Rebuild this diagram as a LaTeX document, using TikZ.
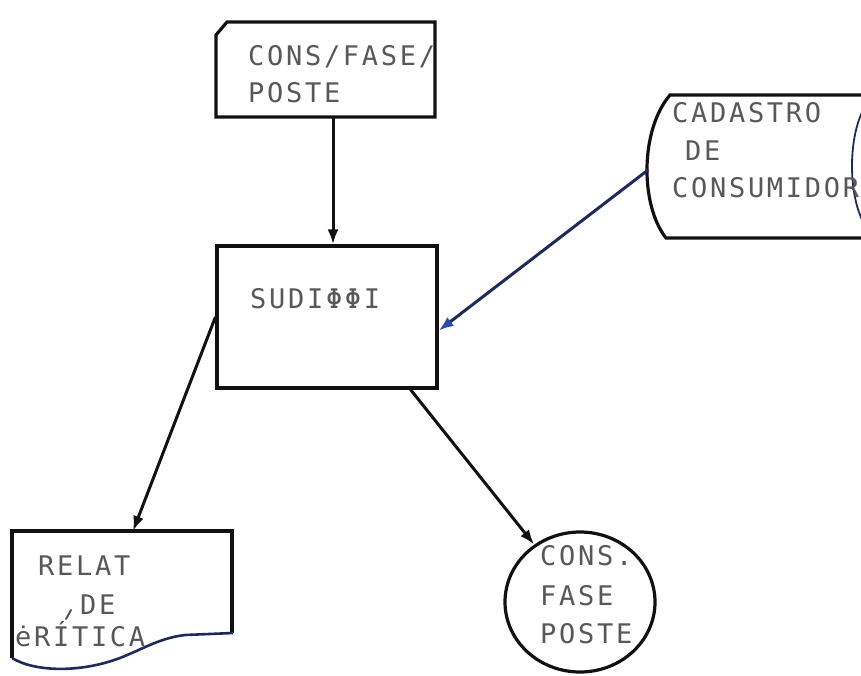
\documentclass[tikz,border=0pt]{standalone}
\usepackage{fontspec}
\usetikzlibrary{arrows.meta,shapes.geometric}
\newfontfamily\typewriter[LetterSpace=10]{DejaVu Sans Mono}
\definecolor{ink}{HTML}{111111}
\definecolor{typeink}{HTML}{585858}
\definecolor{navy}{HTML}{1E2A5A}
\definecolor{pen}{HTML}{2E4AA8}

\begin{document}
\begin{tikzpicture}[x=1pt,y=-1pt,
  outline/.style={draw=ink, line width=3.2pt, line join=miter},
  flow/.style={draw=ink, line width=3pt, -{Latex[length=15pt,width=11pt]}},
  penflow/.style={draw=navy, line width=3pt, -{Latex[length=15pt,width=11pt,color=pen]}},
  wave/.style={draw=navy, line width=2.6pt},
  typed/.style={anchor=base west, inner sep=0pt, text=typeink,
    font=\typewriter\fontsize{27}{32}\selectfont},
]
\useasboundingbox (0,0) rectangle (861,675);
\clip (0,0) rectangle (861,675);
\fill[white] (0,0) rectangle (861,675);

% punched card: input file
\draw[outline] (227,22) -- (435,22) -- (435,117) -- (216,117) -- (216,35) -- cycle;
\coordinate (card-s) at (333,117);
\node[typed] (card-l1) at (248,65) {CONS/FASE/};
\node[typed] (card-l2) at (248,102) {POSTE};

% process box
\node[outline, rectangle, minimum width=220pt, minimum height=142pt, inner sep=0pt] (sudi) at (327,317) {};
\node[typed] (sudi-l) at (250,308) {SUDIΦΦI};

% direct access storage: consumer register
\draw[outline] (900,95) -- (670,95) .. controls (640,130) and (640,205) .. (666,238) -- (900,238);
\draw[wave, line width=1.8pt] (882,166) ellipse [x radius=30, y radius=72];
\coordinate (drum-w) at (648,170);
\node[typed] (drum-l1) at (672,122) {CADASTRO};
\node[typed] (drum-l2) at (685,160) {DE};
\node[typed] (drum-l3) at (672,197) {CONSUMIDOR};

% printed report
\draw[outline] (232,633) -- (232,531) -- (12,531) -- (12,658);
\draw[wave] (12,658) .. controls (35,672) and (80,673) .. (120,658)
  .. controls (145,648) and (160,638) .. (185,635) -- (233,633);
\coordinate (doc-n) at (133,531);
\node[typed] (doc-l1) at (38,575) {RELAT};
\node[typed] (doc-l2) at (80,614) {DE};
\draw[typeink, line width=2pt, line cap=round] (66,619) -- (71,610);
\node[typed] (doc-l3) at (15,646) {ėRÍTICA};

% output file
\node[outline, ellipse, minimum width=150pt, minimum height=140pt, inner sep=0pt] (cons) at (580,602) {};
\node[typed] (cons-l1) at (540,565) {CONS.};
\node[typed] (cons-l2) at (540,605) {FASE};
\node[typed] (cons-l3) at (540,643) {POSTE};

% connectors
\draw[flow] (card-s) -- (card-s |- sudi.north);
\draw[penflow] (drum-w) -- (sudi.-7);
\draw[flow] (sudi.west) -- (doc-n);
\draw[flow] (sudi.-41) -- (cons);
\end{tikzpicture}
\end{document}
